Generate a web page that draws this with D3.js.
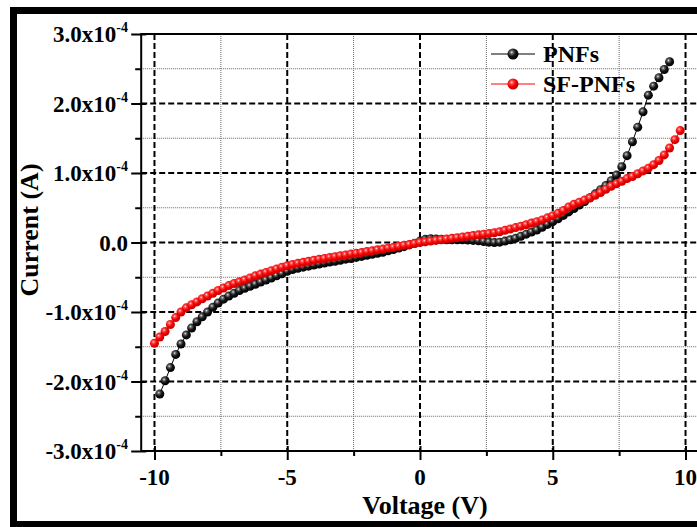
<!DOCTYPE html>
<html>
<head>
  <meta charset="utf-8">
  <style type="text/css">
    body {
      margin: 0;
      background: #fff;
    }
    svg text {
      font-family: "Liberation Serif", "Times New Roman", serif;
      font-weight: bold;
      fill: #000;
    }
  </style>
  <title>I-V</title>
</head>
<body>
  <script src="https://cdn.jsdelivr.net/npm/d3@7"></script>
  <script>
    // voltage sweep (V)
    var voltage = [-10, -9.8, -9.6, -9.4, -9.2, -9, -8.8, -8.6, -8.4, -8.2,
      -8, -7.8, -7.6, -7.4, -7.2, -7, -6.8, -6.6, -6.4, -6.2,
      -6, -5.8, -5.6, -5.4, -5.2, -5, -4.8, -4.6, -4.4, -4.2,
      -4, -3.8, -3.6, -3.4, -3.2, -3, -2.8, -2.6, -2.4, -2.2,
      -2, -1.8, -1.6, -1.4, -1.2, -1, -0.8, -0.6, -0.4, -0.2,
      0, 0.2, 0.4, 0.6, 0.8, 1, 1.2, 1.4, 1.6, 1.8,
      2, 2.2, 2.4, 2.6, 2.8, 3, 3.2, 3.4, 3.6, 3.8,
      4, 4.2, 4.4, 4.6, 4.8, 5, 5.2, 5.4, 5.6, 5.8,
      6, 6.2, 6.4, 6.6, 6.8, 7, 7.2, 7.4, 7.6, 7.8,
      8, 8.2, 8.4, 8.6, 8.8, 9, 9.2, 9.4, 9.6, 9.8];

    // current in units of 1e-4 A
    var pnfs = [null, -2.18, -1.99, -1.80, -1.61, -1.46, -1.33, -1.23, -1.14, -1.07,
      -1.00, -0.93, -0.87, -0.815, -0.77, -0.73, -0.69, -0.66, -0.63, -0.60,
      -0.57, -0.54, -0.51, -0.48, -0.45, -0.415, -0.39, -0.37, -0.355, -0.34,
      -0.325, -0.31, -0.295, -0.28, -0.27, -0.255, -0.24, -0.23, -0.215, -0.20,
      -0.185, -0.17, -0.155, -0.14, -0.12, -0.10, -0.08, -0.06, -0.035, -0.01,
      0.02, 0.045, 0.055, 0.05, 0.045, 0.04, 0.04, 0.04, 0.04, 0.035,
      0.03, 0.025, 0.015, 0.005, 0.0, 0.005, 0.02, 0.04, 0.06, 0.09,
      0.12, 0.15, 0.18, 0.22, 0.26, 0.30, 0.34, 0.39, 0.44, 0.49,
      0.54, 0.59, 0.645, 0.70, 0.76, 0.82, 0.89, 0.97, 1.09, 1.25,
      1.45, 1.66, 1.88, 2.12, 2.25, 2.37, 2.49, 2.60, null, null];

    var sfPnfs = [-1.45, -1.36, -1.28, -1.18, -1.08, -1.00, -0.94, -0.895, -0.855, -0.81,
      -0.77, -0.73, -0.69, -0.655, -0.62, -0.59, -0.565, -0.54, -0.51, -0.48,
      -0.455, -0.43, -0.405, -0.38, -0.355, -0.335, -0.315, -0.30, -0.285, -0.27,
      -0.255, -0.24, -0.23, -0.215, -0.205, -0.19, -0.18, -0.165, -0.155, -0.145,
      -0.13, -0.12, -0.105, -0.095, -0.08, -0.07, -0.055, -0.04, -0.03, -0.015,
      0.0, 0.01, 0.02, 0.03, 0.04, 0.05, 0.06, 0.07, 0.08, 0.09,
      0.10, 0.11, 0.12, 0.13, 0.14, 0.155, 0.175, 0.195, 0.215, 0.235,
      0.255, 0.28, 0.30, 0.325, 0.355, 0.385, 0.42, 0.46, 0.51, 0.55,
      0.58, 0.61, 0.64, 0.68, 0.72, 0.765, 0.81, 0.845, 0.88, 0.92,
      0.95, 0.99, 1.03, 1.07, 1.12, 1.18, 1.26, 1.36, 1.48, 1.61];

    var xTicks = [-10, -5, 0, 5, 10];
    var xMinor = [-7.5, -2.5, 2.5, 7.5];
    var yTicks = [-3, -2, -1, 0, 1, 2, 3];
    var yMinor = [-2.5, -1.5, -0.5, 0.5, 1.5, 2.5];
    var yTickLabels = ["-3.0x10", "-2.0x10", "-1.0x10", "0.0", "1.0x10", "2.0x10", "3.0x10"];

    var series = [
      { name: "PNFs", values: pnfs, color: "#000", grad: "gBlack" },
      { name: "SF-PNFs", values: sfPnfs, color: "#ff0000", grad: "gRed" }
    ];

    var W = 697, H = 527;
    var pLeft = 141.2, pRight = 698.8, pTop = 34, pBottom = 451;

    var x = d3.scaleLinear().domain([-10.5, 10.5]).range([pLeft, pRight]);
    var y = d3.scaleLinear().domain([-3, 3]).range([pBottom, pTop]);

    var svg = d3.select("body").append("svg")
      .attr("width", W)
      .attr("height", H);

    // sphere-like markers
    var defs = svg.append("defs");
    function sphere(id, stops) {
      var g = defs.append("radialGradient").attr("id", id)
        .attr("cx", "38%").attr("cy", "35%").attr("r", "65%");
      stops.forEach(function (s) {
        g.append("stop").attr("offset", s[0]).attr("stop-color", s[1]);
      });
    }
    sphere("gBlack", [["0%", "#e8e8e8"], ["22%", "#666"], ["55%", "#151515"], ["100%", "#000"]]);
    sphere("gRed", [["0%", "#ffe6e6"], ["22%", "#ff4a4a"], ["60%", "#f00000"], ["100%", "#c80000"]]);

    svg.append("rect").attr("width", W).attr("height", H).attr("fill", "#fff");

    // minor grid (dotted grey)
    var grid = svg.append("g");
    grid.selectAll(".vminor").data(xMinor).enter().append("line")
      .attr("x1", d => x(d)).attr("x2", d => x(d))
      .attr("y1", pTop).attr("y2", pBottom)
      .attr("stroke", "#666").attr("stroke-width", 1).attr("stroke-dasharray", "1,1");
    grid.selectAll(".hminor").data(yMinor).enter().append("line")
      .attr("x1", pLeft).attr("x2", pRight)
      .attr("y1", d => y(d)).attr("y2", d => y(d))
      .attr("stroke", "#666").attr("stroke-width", 1).attr("stroke-dasharray", "1,1");

    // major grid (dashed black)
    grid.selectAll(".vmajor").data(xTicks).enter().append("line")
      .attr("x1", d => x(d)).attr("x2", d => x(d))
      .attr("y1", pTop).attr("y2", pBottom)
      .attr("stroke", "#000").attr("stroke-width", 2).attr("stroke-dasharray", "6,3");
    grid.selectAll(".hmajor").data(yTicks.filter(d => d > -3 && d < 3)).enter().append("line")
      .attr("x1", pLeft).attr("x2", pRight)
      .attr("y1", d => y(d)).attr("y2", d => y(d))
      .attr("stroke", "#000").attr("stroke-width", 2).attr("stroke-dasharray", "6,3");

    // axes
    var xAxis = d3.axisBottom(x).tickValues(xTicks).tickSize(9).tickFormat("");
    var xAxisIn = d3.axisTop(x).tickValues(xTicks).tickSize(5).tickFormat("");
    var xAxisMinor = d3.axisBottom(x).tickValues(xMinor).tickSize(5).tickFormat("");
    var yAxis = d3.axisLeft(y).tickValues(yTicks).tickSize(10).tickFormat("");
    var yAxisIn = d3.axisRight(y).tickValues(yTicks).tickSize(5).tickFormat("");
    var yAxisMinor = d3.axisLeft(y).tickValues(yMinor).tickSize(6).tickFormat("");

    [xAxis, xAxisIn, xAxisMinor].forEach(function (a) {
      svg.append("g").attr("class", "axis")
        .attr("transform", "translate(0," + pBottom + ")").call(a);
    });
    [yAxis, yAxisIn, yAxisMinor].forEach(function (a) {
      svg.append("g").attr("class", "axis")
        .attr("transform", "translate(" + pLeft + ",0)").call(a);
    });
    svg.selectAll(".axis path").remove();
    svg.selectAll(".axis line").attr("stroke", "#000").attr("stroke-width", 2);

    // frame of the plot
    svg.append("rect")
      .attr("x", pLeft).attr("y", pTop)
      .attr("width", pRight - pLeft).attr("height", pBottom - pTop)
      .attr("fill", "none").attr("stroke", "#000").attr("stroke-width", 2);

    // tick labels
    svg.append("g").selectAll("text").data(xTicks).enter().append("text")
      .attr("x", d => x(d)).attr("y", 485)
      .attr("text-anchor", "middle")
      .style("font-size", "23px")
      .text(d => d);

    var yl = svg.append("g").selectAll("text").data(yTicks).enter().append("text")
      .attr("x", 128).attr("y", d => y(d) + 8)
      .attr("text-anchor", "end")
      .style("font-size", "23px");
    yl.append("tspan").text((d, i) => yTickLabels[i]);
    yl.filter(d => d !== 0).append("tspan")
      .attr("dy", -10).style("font-size", "14px").text("-4");

    // axis titles
    svg.append("text")
      .attr("x", (x(-10) + x(10)) / 2 + 5).attr("y", 514)
      .attr("text-anchor", "middle")
      .style("font-size", "26px")
      .text("Voltage (V)");

    svg.append("text")
      .attr("transform", "translate(38," + 230 + ") rotate(-90)")
      .attr("text-anchor", "middle")
      .style("font-size", "26px")
      .text("Current (A)");

    // series
    var line = d3.line()
      .defined(d => d.i != null)
      .x(d => x(d.v))
      .y(d => y(d.i));

    series.forEach(function (s) {
      var pts = voltage.map((v, k) => ({ v: v, i: s.values[k] }));
      svg.append("path").datum(pts)
        .attr("d", line)
        .attr("fill", "none")
        .attr("stroke", s.color)
        .attr("stroke-width", 1);
      svg.append("g").selectAll("circle")
        .data(pts.filter(d => d.i != null)).enter().append("circle")
        .attr("cx", d => x(d.v)).attr("cy", d => y(d.i))
        .attr("r", 4.5)
        .attr("fill", "url(#" + s.grad + ")");
    });

    // legend
    var leg = svg.append("g");
    series.forEach(function (s, k) {
      var ly = 54 + k * 30;
      leg.append("line")
        .attr("x1", 491).attr("x2", 535).attr("y1", ly).attr("y2", ly)
        .attr("stroke", s.color).attr("stroke-width", 1);
      leg.append("circle")
        .attr("cx", 513).attr("cy", ly).attr("r", 5.5)
        .attr("fill", "url(#" + s.grad + ")");
      leg.append("text")
        .attr("x", 543).attr("y", ly + 8)
        .style("font-size", "24px")
        .text(s.name);
    });

    // outer thick border
    svg.append("rect")
      .attr("x", 13.5).attr("y", 10.5)
      .attr("width", 720).attr("height", 514)
      .attr("fill", "none").attr("stroke", "#000").attr("stroke-width", 7);
  </script>
</body>
</html>
